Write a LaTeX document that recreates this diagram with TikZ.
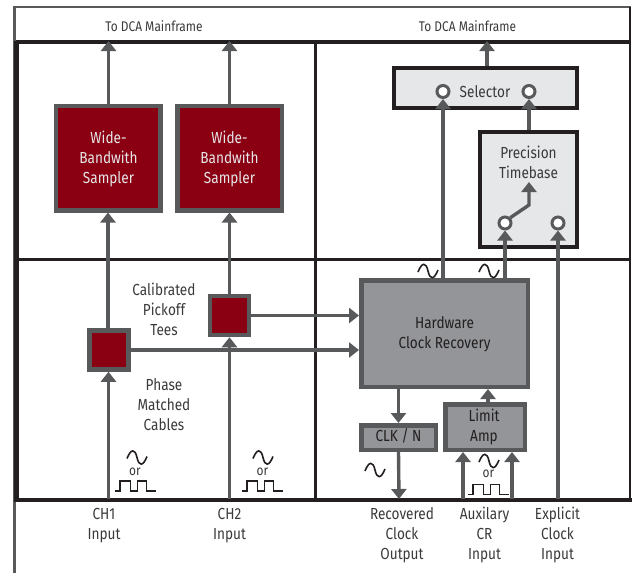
\documentclass[tikz,border=0pt]{standalone}
\usepackage{fontspec}
\setmainfont[FakeStretch=0.85]{Fira Sans}
\usetikzlibrary{arrows.meta}
\definecolor{txt}{HTML}{3A3A3C}
\definecolor{gr}{HTML}{58595B}
\definecolor{blk}{HTML}{231F20}
\definecolor{red}{HTML}{8A0012}
\definecolor{lgt}{HTML}{E6E7E8}
\definecolor{mid}{HTML}{939598}
\tikzset{x=1pt,y=-1pt,
 lbl/.style={text=txt,font=\fontsize{16}{20}\selectfont,align=center,inner sep=0},
 redlbl/.style={lbl,text=lgt},
 darklbl/.style={lbl,text=blk},
 redbox/.style={draw=gr,fill=red,line width=4.5pt,inner sep=0,minimum width=#1,minimum height=#1},
 blackbox/.style={draw=blk,fill=lgt,line width=4pt,inner sep=0},
 graybox/.style={draw=gr,fill=mid,line width=4.5pt,inner sep=0},
 port/.style={circle,draw=gr,fill=white,line width=3pt,minimum size=12pt,inner sep=0},
 arr/.style={draw=gr,line width=3.4pt,-{Triangle[length=10pt,width=15pt]}},
 frame/.style={draw=blk,line width=4pt},
 wave/.style={draw=blk,line width=1.6pt}}
\newcommand{\sine}[2]{\draw[wave] (#1-10,#2+1) .. controls (#1-6,#2-9) and (#1-2,#2-9) .. (#1,#2) .. controls (#1+2,#2+9) and (#1+6,#2+9) .. (#1+10,#2-1);}
\newcommand{\square}[2]{\draw[wave] (#1-20.5,#2+5) -- (#1-15.5,#2+5) -- (#1-15.5,#2-5) -- (#1-5,#2-5) -- (#1-5,#2+5) -- (#1+2,#2+5) -- (#1+2,#2-5) -- (#1+11,#2-5) -- (#1+11,#2+5) -- (#1+20.5,#2+5);}
\begin{document}
\begin{tikzpicture}
\useasboundingbox (0,0) rectangle (632,573);
% outer
\draw[gr,line width=2pt] (14,7) -- (631,7);
\draw[gr,line width=3pt] (14.5,6) -- (14.5,573);
\draw[blk,line width=2pt] (630,7) -- (630,500);
\draw[frame] (16,41.5) -- (630,41.5);
\draw[frame,line width=5pt] (16.5,41) -- (16.5,502);
\draw[frame] (16,500) -- (632,500);
\draw[frame,line width=3pt] (16,259.5) -- (630,259.5);
\draw[frame,line width=3pt] (315,41) -- (315,500);
% free ends
\coordinate (top1) at (108.5,41);
\coordinate (top2) at (229.5,41);
\coordinate (top3) at (487,41);
\coordinate (bot1) at (108.5,499);
\coordinate (bot2) at (229.5,499);
\coordinate (botO) at (399,499);
\coordinate (botA) at (463,499);
\coordinate (botB) at (512,499);
\coordinate (botE) at (558,499);
% boxes
\node[redbox=104.5pt] (s1) at (108,158) {};
\node[redbox=104.5pt] (s2) at (229.5,158) {};
\node[redbox=39pt] (t1) at (109,350) {};
\node[redbox=39pt] (t2) at (229.5,315.5) {};
\node[blackbox,minimum width=183pt,minimum height=40pt] (sel) at (485.5,88) {};
\node[blackbox,minimum width=97pt,minimum height=115pt] (tb) at (528.5,189.5) {};
\node[graybox,minimum width=166.5pt,minimum height=106.5pt] (hw) at (444.5,333.5) {};
\node[graybox,minimum width=74.5pt,minimum height=24.5pt] (clk) at (398.5,437.5) {};
\node[graybox,minimum width=79.5pt,minimum height=45.5pt] (la) at (485,427) {};
% box texts
\node[redlbl] (s1l) at (108.5,159) {Wide-\\Bandwith\\Sampler};
\node[redlbl] (s2l) at (229.5,159) {Wide-\\Bandwith\\Sampler};
\node[lbl] (sell) at (485,92) {Selector};
\node[lbl] (tbl) at (528.5,162) {Precision\\Timebase};
\node[darklbl] (hwl) at (444.5,334) {Hardware\\Clock Recovery};
\node[darklbl] (clkl) at (398.5,436) {CLK / N};
\node[darklbl] (lal) at (484,427) {Limit\\Amp};
% ports
\node[port] (pa) at (443,91.5) {};
\node[port] (pb) at (529,91.5) {};
\node[port] (pc) at (505,223) {};
\node[port] (pd) at (558,223) {};
\coordinate (swt) at (529,182);
% connectors
\draw[arr] (s1.north -| top1) -- (top1);
\draw[arr] (s2.north -| top2) -- (top2);
\draw[arr] (sel.north -| top3) -- (top3);
\draw[arr] (t1.north -| s1) -- (s1.south);
\draw[arr] (t2.north) -- (s2.south);
\draw[arr] (bot1) -- (t1.south -| bot1);
\draw[arr] (bot2) -- (t2.south);
\draw[arr] (t1.east) -- (t1.east -| hw.west);
\draw[arr] (t2.east) -- (t2.east -| hw.west);
\draw[arr] (hw.north -| pa) -- (pa.south);
\draw[arr] (hw.north -| pc) -- (pc.south);
\draw[arr] (botE) -- (pd.south);
\draw[arr] (tb.north -| pb) -- (pb.south);
\draw[arr] (pc.north east) -- (529,205) -- (swt);
\draw[arr] (hw.south -| clk) -- (clk.north);
\draw[arr] (clk.south) -- (botO);
\draw[arr] (la.north -| 488,0) -- (hw.south -| 488,0);
\draw[arr] (botA) -- (la.south -| botA);
\draw[arr] (botB) -- (la.south -| botB);
% labels
\node[lbl] (l1) at (154,26) {\fontsize{14}{16}\selectfont To DCA Mainframe};
\node[lbl] (l2) at (467.5,26) {\fontsize{14}{16}\selectfont To DCA Mainframe};
\node[lbl] (l3) at (164,309.5) {Calibrated\\Pickoff\\Tees};
\node[lbl] (l4) at (164,405) {Phase\\Matched\\Cables};
\node[lbl] (l5) at (104,525.5) {CH1\\Input};
\node[lbl] (l6) at (229.5,525.5) {CH2\\Input};
\node[lbl] (l7) at (402,535) {Recovered\\Clock\\Output};
\node[lbl] (l8) at (484.5,535) {Auxilary\\CR\\Input};
\node[lbl] (l9) at (557.5,535) {Explicit\\Clock\\Input};
\node[lbl,font=\fontsize{14}{14}\selectfont] (o1) at (135,472) {or};
\node[lbl,font=\fontsize{14}{14}\selectfont] (o2) at (262.5,472) {or};
\node[lbl,font=\fontsize{14}{14}\selectfont] (o3) at (488.5,474) {or};
% waves
\sine{137}{457.5}
\sine{263}{457.5}
\sine{375}{470}
\sine{489}{461}
\sine{428}{271}
\sine{489}{271}
\square{135.5}{486}
\square{262.5}{486}
\square{488.5}{489.5}
\end{tikzpicture}
\end{document}
